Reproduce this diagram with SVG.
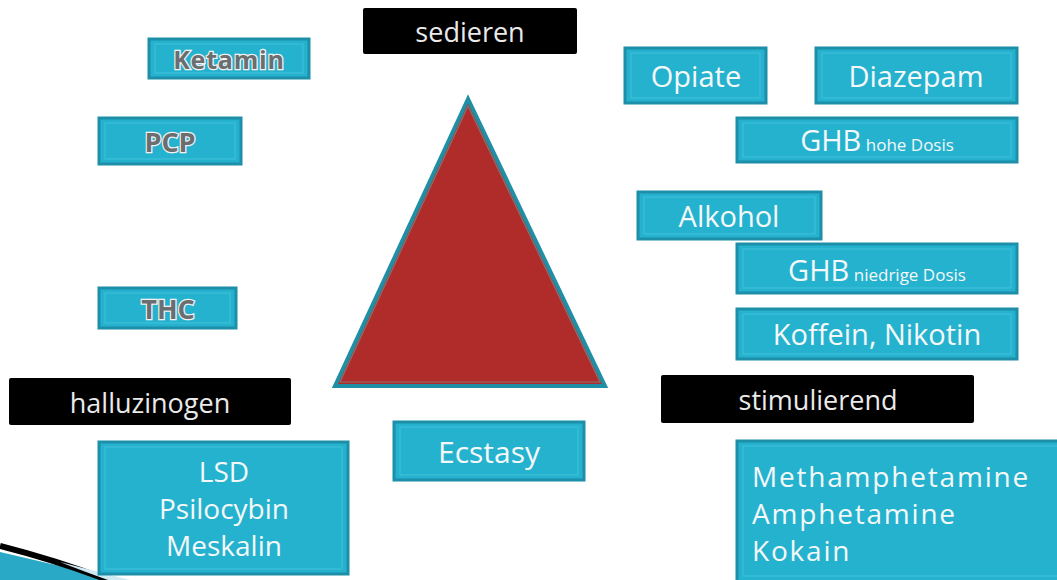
<svg xmlns="http://www.w3.org/2000/svg" width="1057" height="580" viewBox="0 0 1057 580">
<style>
.box{fill:#25b2cf;stroke:#1d8fa8;stroke-width:3}
.inner{fill:none;stroke:#39bcd6;stroke-width:1.5}
.lbl{fill:#000}
.t{font-family:"Open Sans","DejaVu Sans",sans-serif;fill:#f4f8f8;text-anchor:middle}
.g{font-family:"Open Sans","DejaVu Sans",sans-serif;font-weight:bold;fill:#6a6e70;stroke:#f2f2f2;stroke-width:2.5;paint-order:stroke;text-anchor:middle}
.w{font-family:"Open Sans","DejaVu Sans",sans-serif;fill:#eaeaea;text-anchor:middle}
.m{font-family:"Open Sans","DejaVu Sans",sans-serif;fill:#f4f8f8;font-size:28px;letter-spacing:1.8px}
</style>
<rect width="1057" height="580" fill="#fff"/>
<g id="decor">
<path d="M0,552 Q60,566 120,580 L0,580 Z" fill="#2aa9c6"/>
<path d="M0,546 Q55,560 108,580" fill="none" stroke="#000" stroke-width="6"/>
<path d="M108,580 Q80,570 60,562 L130,580 Z" fill="#cfeaf2"/>
</g>
<g id="triangle">
<polygon points="468,99 335,386 605,386" fill="#b02c2a" stroke="#1e8fa5" stroke-width="4" stroke-linejoin="miter"/>
<polygon points="468,106 340,382 600,382" fill="none" stroke="#8a7070" stroke-width="1.2"/>
</g>
<g id="sedieren"><rect class="lbl" x="363" y="8" width="214" height="46" rx="2"/><text class="w" x="470" y="42" font-size="27">sedieren</text></g>
<g id="halluzinogen"><rect class="lbl" x="9" y="378" width="282" height="47" rx="2"/><text class="w" x="150" y="413" font-size="27">halluzinogen</text></g>
<g id="stimulierend"><rect class="lbl" x="661" y="375" width="313" height="48" rx="2"/><text class="w" x="818" y="410" font-size="27">stimulierend</text></g>
<g id="ketamin"><rect class="box" x="149" y="39" width="160" height="39"/><rect class="inner" x="155" y="44" width="148" height="29"/><text class="g" x="229" y="69" font-size="25" letter-spacing="0.8">Ketamin</text></g>
<g id="pcp"><rect class="box" x="99" y="118" width="142" height="46"/><rect class="inner" x="105" y="123" width="130" height="36"/><text class="g" x="170" y="152" font-size="27">PCP</text></g>
<g id="thc"><rect class="box" x="99" y="288" width="137" height="40"/><rect class="inner" x="105" y="293" width="125" height="30"/><text class="g" x="168" y="319" font-size="27">THC</text></g>
<g id="lsd"><rect class="box" x="99" y="442" width="249" height="132"/><rect class="inner" x="105" y="447" width="237" height="122"/><text class="t" x="224" y="482" font-size="28">LSD</text><text class="t" x="224" y="519" font-size="28">Psilocybin</text><text class="t" x="224" y="556" font-size="28">Meskalin</text></g>
<g id="ecstasy"><rect class="box" x="394" y="422" width="190" height="58"/><rect class="inner" x="400" y="427" width="178" height="48"/><text class="t" x="489" y="463" font-size="30">Ecstasy</text></g>
<g id="opiate"><rect class="box" x="625" y="48" width="141" height="55"/><rect class="inner" x="631" y="53" width="129" height="45"/><text class="t" x="696" y="87" font-size="29">Opiate</text></g>
<g id="diazepam"><rect class="box" x="816" y="48" width="201" height="55"/><rect class="inner" x="822" y="53" width="189" height="45"/><text class="t" x="916" y="87" font-size="29">Diazepam</text></g>
<g id="ghb-hoch"><rect class="box" x="737" y="118" width="280" height="44"/><rect class="inner" x="743" y="123" width="268" height="34"/><text class="t" x="877" y="151"><tspan font-size="29">GHB</tspan><tspan font-size="17"> hohe Dosis</tspan></text></g>
<g id="alkohol"><rect class="box" x="638" y="192" width="183" height="47"/><rect class="inner" x="644" y="197" width="171" height="37"/><text class="t" x="729" y="227" font-size="29">Alkohol</text></g>
<g id="ghb-niedrig"><rect class="box" x="737" y="244" width="280" height="49"/><rect class="inner" x="743" y="249" width="268" height="39"/><text class="t" x="877" y="281"><tspan font-size="29">GHB</tspan><tspan font-size="17"> niedrige Dosis</tspan></text></g>
<g id="koffein"><rect class="box" x="737" y="309" width="280" height="50"/><rect class="inner" x="743" y="314" width="268" height="40"/><text class="t" x="877" y="345" font-size="29">Koffein, Nikotin</text></g>
<g id="stimulanzien"><rect class="box" x="737" y="441" width="325" height="145"/><rect class="inner" x="743" y="446" width="320" height="130"/><text class="m" x="752" y="487">Methamphetamine</text><text class="m" x="752" y="524">Amphetamine</text><text class="m" x="752" y="561">Kokain</text></g>
<g id="connectors"></g>
</svg>
